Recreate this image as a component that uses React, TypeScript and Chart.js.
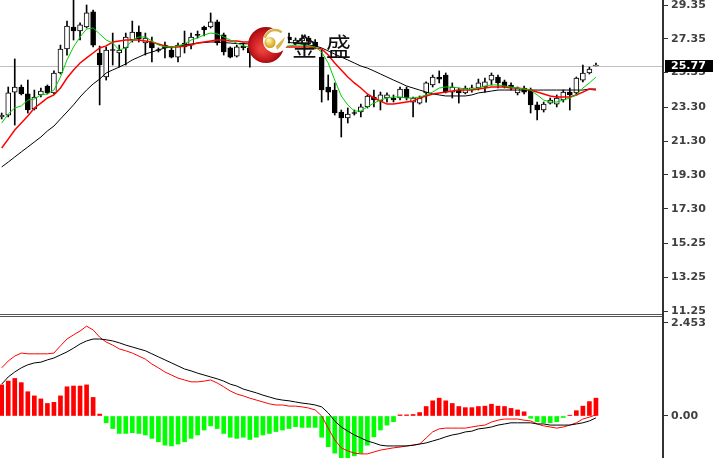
import React, { useEffect, useRef } from "react";
import { Chart, registerables } from "chart.js";

Chart.register(...registerables);

// ---- price candles ----
const opens = [
  22.73, 22.84, 24.2, 24.5, 24.09, 23.2, 24.03, 24.56, 24.15, 25.33,
  26.75, 28.05, 27.81, 28.05, 28.94, 26.51, 25.09, 26.72, 26.51, 26.81,
  27.28, 27.75, 27.1, 27.16, 26.72, 26.98, 26.69, 26.27, 27.1, 26.98,
  27.61, 28.05, 28.05, 28.35, 27.58, 26.81, 26.33, 26.9, 26.81, 26.55,
  26.95, 27.15, 27.0, 27.2, 27.46, 27.1, 27.22, 27.4, 27.16, 26.27,
  24.5, 24.32, 23.02, 22.67, 22.99, 23.02, 23.32, 23.91, 23.67, 23.85,
  23.85, 23.85, 24.38, 23.61, 23.55, 24.15, 24.62, 25.09, 25.21, 24.2,
  24.32, 24.15, 24.35, 24.44, 24.5, 24.91, 25.09, 24.8, 24.62, 24.15,
  24.44, 24.32, 23.44, 23.14, 23.55, 23.49, 23.73, 24.2, 24.15, 24.91,
  25.33, 25.74,
];
const highs = [
  22.96, 24.5, 26.16, 24.62, 24.91, 24.32, 24.44, 24.62, 25.45, 26.98,
  28.4, 29.7, 28.29, 29.35, 29.05, 26.92, 26.87, 27.69, 26.98, 27.69,
  28.4, 28.11, 27.69, 27.46, 26.81, 27.16, 26.87, 27.1, 27.81, 27.69,
  27.81, 28.1, 28.88, 28.46, 27.69, 26.87, 26.98, 27.1, 26.92, 27.1,
  27.3, 27.35, 27.3, 27.4, 27.69, 27.4, 27.58, 27.5, 27.3, 26.69,
  25.21, 24.74, 23.14, 23.26, 23.14, 23.49, 24.03, 24.32, 24.2, 24.15,
  24.03, 24.5, 24.5, 23.91, 23.97, 24.8, 25.21, 25.45, 25.33, 24.74,
  24.44, 24.56, 24.62, 24.97, 25.03, 25.33, 25.21, 24.91, 24.74, 24.5,
  24.56, 24.44, 23.61, 23.61, 23.85, 24.03, 24.32, 24.44, 25.09, 25.8,
  25.68, 25.92,
];
const lows = [
  22.61, 22.73, 22.25, 24.03, 22.96, 23.14, 23.91, 24.09, 24.09, 25.27,
  26.39, 27.28, 27.28, 27.99, 26.87, 23.44, 24.91, 25.8, 25.68, 25.8,
  27.16, 27.16, 26.39, 25.98, 26.57, 26.22, 26.22, 25.98, 26.51, 26.75,
  27.4, 27.52, 27.99, 26.98, 26.39, 26.22, 26.27, 26.69, 25.68, 26.4,
  26.8, 26.9, 26.85, 26.95, 27.1, 26.98, 27.04, 27.0, 26.75, 23.61,
  23.73, 22.84, 21.54, 22.37, 22.84, 22.73, 23.26, 23.32, 23.14, 23.61,
  23.61, 23.73, 23.73, 22.73, 23.49, 23.61, 24.5, 24.74, 24.15, 23.85,
  23.55, 24.09, 24.2, 24.32, 24.2, 24.62, 24.44, 24.44, 24.32, 24.03,
  24.09, 22.96, 22.55, 23.02, 23.49, 23.32, 23.61, 23.14, 24.03, 24.8,
  25.27, 25.74,
];
const closes = [
  22.84, 24.15, 24.5, 24.09, 23.14, 23.91, 24.26, 24.15, 25.33, 26.75,
  28.11, 27.81, 28.17, 28.88, 26.98, 25.8, 26.69, 26.66, 26.69, 27.46,
  27.75, 27.34, 27.4, 26.81, 26.66, 26.81, 26.27, 26.98, 26.87, 27.46,
  27.55, 27.87, 28.35, 27.1, 26.57, 26.27, 26.87, 26.82, 26.51, 26.95,
  27.15, 27.0, 27.2, 27.05, 27.28, 27.28, 27.4, 27.2, 26.87, 24.32,
  24.2, 22.96, 22.67, 22.9, 22.93, 23.32, 23.97, 23.73, 24.03, 24.03,
  23.73, 24.38, 23.85, 23.85, 23.85, 24.74, 25.09, 24.97, 24.2, 24.5,
  24.15, 24.44, 24.45, 24.74, 24.8, 25.21, 24.74, 24.5, 24.44, 24.44,
  24.2, 23.44, 23.14, 23.49, 23.73, 23.85, 24.2, 24.03, 25.03, 25.33,
  25.56, 25.77,
];

// ---- moving averages ----
const maGreen = [
  22.37, 22.9, 23.26, 23.38, 23.73, 23.79, 24.03, 24.09, 24.32, 25.09,
  26.1, 26.87, 27.46, 27.93, 27.99, 27.64, 27.28, 27.1, 26.69, 26.81,
  27.28, 27.46, 27.46, 27.22, 26.98, 26.87, 26.87, 26.93, 27.04, 27.28,
  27.4, 27.58, 27.69, 27.64, 27.46, 27.28, 27.1, 26.93, 26.87, 26.81,
  26.81, 26.81, 26.81, 26.87, 26.93, 26.98, 26.98, 26.93, 26.87, 26.57,
  25.92, 24.91, 23.97, 23.44, 23.08, 23.08, 23.32, 23.55, 23.73, 23.85,
  23.91, 23.91, 23.85, 23.85, 23.91, 24.03, 24.2, 24.44, 24.5, 24.5,
  24.44, 24.38, 24.38, 24.44, 24.56, 24.62, 24.62, 24.56, 24.5, 24.44,
  24.38, 24.32, 24.03, 23.73, 23.61, 23.61, 23.73, 23.85, 24.03, 24.44,
  24.74, 25.09,
];
const maRed = [
  20.89, 21.42, 21.96, 22.37, 22.79, 23.26, 23.55, 23.85, 24.03, 24.44,
  25.03, 25.51, 25.92, 26.22, 26.51, 26.81, 26.93, 27.16, 27.22, 27.28,
  27.28, 27.28, 27.22, 27.16, 27.04, 26.93, 26.87, 26.87, 26.93, 26.98,
  27.1, 27.16, 27.22, 27.28, 27.28, 27.22, 27.22, 27.16, 27.16, 27.1,
  27.04, 26.98, 26.93, 26.87, 26.87, 26.87, 26.87, 26.87, 26.81, 26.75,
  26.39, 25.92, 25.51, 25.09, 24.74, 24.44, 24.09, 23.85, 23.67, 23.49,
  23.49, 23.55, 23.61, 23.67, 23.85, 23.97, 24.09, 24.15, 24.2, 24.26,
  24.32, 24.32, 24.32, 24.38, 24.44, 24.5, 24.5, 24.5, 24.44, 24.44,
  24.38, 24.32, 24.2, 24.09, 23.97, 23.91, 23.91, 23.91, 24.03, 24.2,
  24.38, 24.32,
];
const maBlack = [
  19.77, 20.06, 20.36, 20.66, 20.95, 21.25, 21.54, 21.9, 22.19, 22.61,
  23.02, 23.44, 23.91, 24.32, 24.68, 24.97, 25.33, 25.51, 25.68, 25.86,
  26.1, 26.27, 26.45, 26.57, 26.69, 26.81, 26.87, 26.93, 26.98, 27.04,
  27.1, 27.13, 27.16, 27.16, 27.13, 27.1, 27.07, 27.07, 27.04, 27.04,
  27.07, 27.1, 27.1, 27.13, 27.13, 27.1, 27.04, 26.98, 26.93, 26.81,
  26.63, 26.45, 26.27, 26.1, 25.92, 25.74, 25.62, 25.45, 25.27, 25.09,
  24.91, 24.74, 24.56, 24.44, 24.32, 24.2, 24.09, 24.03, 23.97, 23.97,
  23.97, 23.97, 24.03, 24.15, 24.2, 24.26, 24.32, 24.32, 24.32, 24.32,
  24.32, 24.32, 24.32, 24.32, 24.32, 24.32, 24.32, 24.32, 24.32, 24.32,
  24.38, 24.38,
];

// ---- MACD panel ----
const macdMain = [
  1.27, 1.45, 1.58, 1.66, 1.64, 1.64, 1.64, 1.64, 1.66, 1.85,
  2.03, 2.14, 2.24, 2.37, 2.27, 2.08, 1.95, 1.87, 1.77, 1.72,
  1.66, 1.58, 1.5, 1.37, 1.27, 1.16, 1.08, 1.0, 0.95, 0.9,
  0.9, 0.92, 0.95, 0.87, 0.77, 0.66, 0.58, 0.53, 0.47, 0.42,
  0.37, 0.32, 0.29, 0.29, 0.26, 0.26, 0.24, 0.21, 0.16, 0.0,
  -0.32, -0.63, -0.84, -0.92, -0.98, -1.0, -1.0, -0.95, -0.9, -0.87,
  -0.84, -0.82, -0.79, -0.77, -0.74, -0.58, -0.42, -0.34, -0.32, -0.32,
  -0.32, -0.32, -0.29, -0.26, -0.24, -0.16, -0.11, -0.08, -0.08, -0.08,
  -0.11, -0.13, -0.21, -0.26, -0.29, -0.32, -0.29, -0.24, -0.18, -0.08,
  -0.03, 0.03,
];
const macdSignal = [
  0.84, 1.03, 1.16, 1.27, 1.35, 1.4, 1.42, 1.48, 1.53, 1.61,
  1.69, 1.79, 1.9, 1.98, 2.03, 2.03, 2.01, 1.98, 1.93, 1.87,
  1.82, 1.77, 1.72, 1.64, 1.56, 1.48, 1.4, 1.32, 1.24, 1.19,
  1.13, 1.08, 1.03, 0.98, 0.92, 0.84, 0.79, 0.71, 0.66, 0.61,
  0.55, 0.5, 0.45, 0.42, 0.4, 0.37, 0.34, 0.32, 0.29, 0.24,
  0.08, -0.13, -0.29, -0.4, -0.5, -0.58, -0.66, -0.71, -0.77, -0.79,
  -0.79, -0.79, -0.79, -0.77, -0.74, -0.71, -0.66, -0.61, -0.55, -0.5,
  -0.47, -0.42, -0.4, -0.34, -0.32, -0.29, -0.24, -0.21, -0.18, -0.18,
  -0.18, -0.18, -0.21, -0.21, -0.24, -0.24, -0.24, -0.24, -0.21, -0.18,
  -0.13, -0.05,
];
const macdHist = [
  0.82, 0.92, 0.99, 0.88, 0.64, 0.53, 0.45, 0.33, 0.36, 0.53,
  0.77, 0.79, 0.79, 0.82, 0.49, 0.05, -0.18, -0.33, -0.46, -0.46,
  -0.44, -0.46, -0.5, -0.59, -0.68, -0.77, -0.79, -0.74, -0.68, -0.59,
  -0.5, -0.37, -0.26, -0.33, -0.46, -0.56, -0.59, -0.56, -0.62, -0.56,
  -0.5, -0.46, -0.41, -0.37, -0.33, -0.28, -0.3, -0.3, -0.3, -0.56,
  -0.81, -0.98, -1.1, -1.12, -1.05, -0.98, -0.77, -0.55, -0.37, -0.24,
  -0.15, 0.03, 0.03, 0.04, 0.09, 0.25, 0.4, 0.47, 0.4, 0.33,
  0.25, 0.22, 0.22, 0.25, 0.26, 0.31, 0.26, 0.25, 0.2, 0.16,
  0.11, -0.06, -0.15, -0.18, -0.18, -0.15, -0.04, 0.02, 0.14, 0.26,
  0.38, 0.47,
];

const priceTicks = [29.35, 27.35, 25.35, 23.3, 21.3, 19.3, 17.3, 15.25, 13.25, 11.25];
const macdTicks = [2.453, 0];
const lastPrice = 25.77;
const brandText = "金盛";

const X_MIN = -0.26;
const X_MAX = 101.27;
const tickFont = { family: '"DejaVu Sans", sans-serif', size: 11, weight: "bold" as const };

const pts = (arr: number[]) => arr.map((v, i) => ({ x: i, y: v }));

const fitRightAxis = (s: any) => {
  s.width = 50;
  s.paddingTop = 0;
  s.paddingBottom = 0;
};

function drawLogo(ctx: CanvasRenderingContext2D) {
  ctx.save();
  const g = ctx.createRadialGradient(262, 49, 3, 266, 45, 19);
  g.addColorStop(0, "#e8403a");
  g.addColorStop(0.7, "#c4161c");
  g.addColorStop(1, "#8e0a0a");
  ctx.beginPath();
  ctx.arc(266, 45, 18, 0, Math.PI * 2);
  ctx.fillStyle = g;
  ctx.fill();
  ctx.beginPath();
  ctx.arc(275.5, 40.5, 12.5, 0, Math.PI * 2);
  ctx.fillStyle = "#ffffff";
  ctx.fill();
  const gb = ctx.createRadialGradient(268.5, 40, 1, 270, 42, 6);
  gb.addColorStop(0, "#fff4a8");
  gb.addColorStop(1, "#d19a12");
  ctx.beginPath();
  ctx.arc(270, 42.5, 5.5, 0, Math.PI * 2);
  ctx.fillStyle = gb;
  ctx.fill();
  ctx.beginPath();
  ctx.arc(275, 40.5, 10.5, Math.PI * 1.08, Math.PI * 1.72);
  ctx.strokeStyle = "#d8b448";
  ctx.lineWidth = 2.5;
  ctx.stroke();
  ctx.beginPath();
  ctx.moveTo(277, 50);
  ctx.quadraticCurveTo(283, 45, 285, 37);
  ctx.quadraticCurveTo(280, 42, 276, 46);
  ctx.closePath();
  ctx.fillStyle = "#d8b448";
  ctx.fill();
  ctx.restore();
}

export default function App() {
  const mainRef = useRef<HTMLCanvasElement>(null);
  const macdRef = useRef<HTMLCanvasElement>(null);

  useEffect(() => {
    const lastLine = {
      id: "lastLine",
      beforeDatasetsDraw(chart: any) {
        const { ctx, chartArea } = chart;
        const y = Math.round(chart.scales.y.getPixelForValue(lastPrice)) + 0.5;
        ctx.save();
        ctx.strokeStyle = "#c0c0c0";
        ctx.lineWidth = 1;
        ctx.beginPath();
        ctx.moveTo(chartArea.left, y);
        ctx.lineTo(chartArea.right, y);
        ctx.stroke();
        ctx.restore();
      },
      afterDatasetsDraw(chart: any) {
        drawLogo(chart.ctx);
      },
      afterDraw(chart: any) {
        const { ctx, chartArea } = chart;
        const y = chart.scales.y.getPixelForValue(lastPrice);
        ctx.save();
        ctx.fillStyle = "#000";
        ctx.fillRect(chartArea.right + 2, Math.round(y) - 6, 50, 12);
        ctx.fillStyle = "#fff";
        ctx.font = 'bold 11px "DejaVu Sans", sans-serif';
        ctx.textBaseline = "middle";
        ctx.textAlign = "left";
        ctx.fillText(lastPrice.toFixed(2), chartArea.right + 8, Math.round(y) + 0.5);
        ctx.restore();
      },
    };

    const main = new Chart(mainRef.current as HTMLCanvasElement, {
      type: "bar",
      data: {
        datasets: [
          { type: "line", data: pts(maGreen), borderColor: "#00d000", borderWidth: 1, pointRadius: 0, order: 0 },
          { type: "line", data: pts(maRed), borderColor: "#ff0000", borderWidth: 1.5, pointRadius: 0, order: 0 },
          { type: "line", data: pts(maBlack), borderColor: "#000000", borderWidth: 1, pointRadius: 0, order: 0 },
          {
            type: "bar",
            data: opens.map((o, i) => ({ x: i, y: [o, closes[i]] })),
            backgroundColor: opens.map((o, i) => (closes[i] >= o ? "#ffffff" : "#000000")),
            borderColor: "#000000",
            borderWidth: 1,
            borderSkipped: false,
            barThickness: 5,
            minBarLength: 1,
            grouped: false,
            order: 1,
          },
          {
            type: "bar",
            data: lows.map((l, i) => ({ x: i, y: [l, highs[i]] })),
            backgroundColor: "#000000",
            barThickness: 1,
            grouped: false,
            order: 2,
          },
        ] as any,
      },
      options: {
        responsive: false,
        animation: false,
        events: [],
        layout: { padding: { top: 0, bottom: 2, left: 0, right: 0 } },
        plugins: { legend: { display: false }, tooltip: { enabled: false } },
        scales: {
          x: { type: "linear", min: X_MIN, max: X_MAX, display: false, offset: false },
          y: {
            type: "linear",
            position: "right",
            min: 11.073,
            max: 29.646,
            beginAtZero: false,
            afterFit: fitRightAxis,
            afterBuildTicks: (s: any) => {
              s.ticks = priceTicks.map((v) => ({ value: v }));
            },
            ticks: {
              autoSkip: false,
              padding: 3,
              color: "#404040",
              font: tickFont,
              callback: (v: any) => Number(v).toFixed(2),
            },
            grid: { drawOnChartArea: false, drawTicks: true, tickLength: 5, color: "#333" },
            border: { display: false },
          },
        },
      } as any,
      plugins: [lastLine],
    });

    const macd = new Chart(macdRef.current as HTMLCanvasElement, {
      type: "bar",
      data: {
        datasets: [
          { type: "line", data: pts(macdSignal), borderColor: "#000000", borderWidth: 1, pointRadius: 0, order: 0 },
          { type: "line", data: pts(macdMain), borderColor: "#ff0000", borderWidth: 1, pointRadius: 0, order: 0 },
          {
            type: "bar",
            data: pts(macdHist),
            backgroundColor: macdHist.map((v) => (v >= 0 ? "#ff0000" : "#00ff00")),
            barThickness: 4,
            grouped: false,
            order: 1,
          },
        ] as any,
      },
      options: {
        responsive: false,
        animation: false,
        events: [],
        layout: { padding: 0 },
        plugins: { legend: { display: false }, tooltip: { enabled: false } },
        scales: {
          x: { type: "linear", min: X_MIN, max: X_MAX, display: false, offset: false },
          y: {
            type: "linear",
            position: "right",
            min: -1.108,
            max: 2.611,
            beginAtZero: false,
            afterFit: fitRightAxis,
            afterBuildTicks: (s: any) => {
              s.ticks = macdTicks.map((v) => ({ value: v }));
            },
            ticks: {
              autoSkip: false,
              padding: 3,
              color: "#404040",
              font: tickFont,
              callback: (v: any) => (Number(v) === 0 ? "0.00" : Number(v).toFixed(3)),
            },
            grid: { drawOnChartArea: false, drawTicks: true, tickLength: 5, color: "#333" },
            border: { display: false },
          },
        },
      } as any,
    });

    return () => {
      main.destroy();
      macd.destroy();
    };
  }, []);

  return (
    <div
      style={{
        position: "absolute",
        left: 0,
        top: 0,
        width: 713,
        height: 458,
        background: "#ffffff",
        overflow: "hidden",
      }}
    >
      <canvas ref={mainRef} width={713} height={316} style={{ position: "absolute", left: 0, top: 0 }} />
      <div style={{ position: "absolute", left: 0, top: 314, width: 664, height: 1, background: "#555" }} />
      <div style={{ position: "absolute", left: 0, top: 316, width: 664, height: 1, background: "#555" }} />
      <canvas ref={macdRef} width={713} height={141} style={{ position: "absolute", left: 0, top: 317 }} />
      <div style={{ position: "absolute", left: 662, top: 0, width: 2, height: 458, background: "#333" }} />
      <div
        style={{
          position: "absolute",
          left: 292,
          top: 33,
          fontFamily: '"Noto Sans CJK SC", sans-serif',
          fontSize: 25,
          lineHeight: "25px",
          letterSpacing: 9,
          color: "#111",
          whiteSpace: "nowrap",
        }}
      >
        {brandText}
      </div>
    </div>
  );
}
